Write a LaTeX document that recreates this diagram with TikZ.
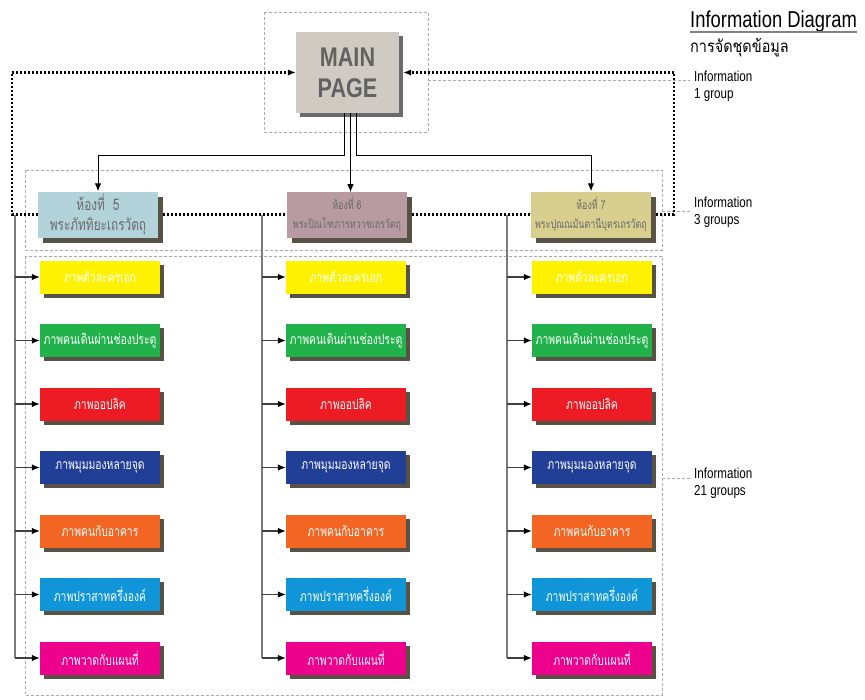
\documentclass[tikz,border=0pt]{standalone}
\usepackage{fontspec}
\setmainfont{Liberation Sans}
\newfontfamily\thaifont[Script=Thai,FakeStretch=0.85]{Loma}
\newfontfamily\thainarrow[Script=Thai,FakeStretch=0.74]{Loma}
\newfontfamily\narrowfont[FakeStretch=0.8]{Liberation Sans}
\usetikzlibrary{positioning,arrows.meta,shadows}

\definecolor{mainfill}{HTML}{CFCBC3}
\definecolor{mainshade}{HTML}{6B6B6B}
\definecolor{maintext}{HTML}{626262}
\definecolor{roomshade}{HTML}{575244}
\definecolor{roomtext}{HTML}{6A6A6A}
\definecolor{roomblue}{HTML}{B3D3DB}
\definecolor{roommauve}{HTML}{B79AA2}
\definecolor{roomkhaki}{HTML}{D8CF8E}
\definecolor{picyellow}{HTML}{FFF200}
\definecolor{picgreen}{HTML}{22B24C}
\definecolor{picred}{HTML}{ED1C24}
\definecolor{picblue}{HTML}{223F98}
\definecolor{picorange}{HTML}{F26522}
\definecolor{piccyan}{HTML}{0F95D8}
\definecolor{picpink}{HTML}{EC008C}
\definecolor{framegray}{HTML}{ABABAB}
\definecolor{trunkgray}{HTML}{7A7A7A}

\tikzset{
    mainbox/.style={fill=mainfill, minimum width=103pt, minimum height=81pt, align=center,
        text=maintext, font=\narrowfont\bfseries\fontsize{27}{31}\selectfont,
        drop shadow={shadow xshift=4pt, shadow yshift=-4pt, fill=mainshade, opacity=1}},
    roombox/.style={minimum width=120pt, minimum height=46pt, inner sep=1pt, align=center,
        text=roomtext, font=\thainarrow\fontsize{12}{19}\selectfont,
        drop shadow={shadow xshift=5pt, shadow yshift=-5pt, fill=roomshade, opacity=1}},
    picbox/.style={minimum width=120pt, minimum height=33pt, inner xsep=1pt, text=white,
        font=\thainarrow\fontsize{14}{16}\selectfont,
        drop shadow={shadow xshift=4pt, shadow yshift=-4pt, fill=roomshade, opacity=1}},
    infolabel/.style={anchor=north west, align=left, inner xsep=4pt, inner ysep=0pt,
        font=\narrowfont\fontsize{14.5}{17}\selectfont},
    frame/.style={framegray, line width=0.6pt, dash pattern=on 3pt off 2pt},
    loopline/.style={black, line width=2.2pt, dash pattern=on 2.2pt off 1.8pt},
    feed/.style={black, line width=1pt, ->},
    trunk/.style={trunkgray, line width=1.3pt},
    branch/.style={black!75, line width=1.1pt, -{Latex[length=8pt,width=6.5pt,black]}}
}

\begin{document}
\begin{tikzpicture}[x=1pt,y=-1pt,node distance=63.5pt,>={Latex[length=8pt,width=6.5pt]}]
    \useasboundingbox (0,0) rectangle (865,699);

    \draw[frame] (264,12) rectangle (428,132);
    \draw[frame] (25,170) rectangle (662,250);
    \draw[frame] (25,256) rectangle (662,695);

    \node (main) [mainbox] at (347.5,72.5) {MAIN\\PAGE};

    \node (room5) [roombox, fill=roomblue, font=\thainarrow\fontsize{16}{20}\selectfont] at (98,214.5) {ห้องที่~~5\\พระภัททิยะเถรวัตถุ};
    \node (room6) [roombox, fill=roommauve] at (347,214.5) {ห้องที่ 6\\พระปิณโฑภารทวาชเถรวัตถุ};
    \node (room7) [roombox, fill=roomkhaki] at (591,214.5) {ห้องที่ 7\\พระปุณณมันตานีบุตรเถรวัตถุ};

    \node (a1) [picbox, fill=picyellow] at (100,277) {ภาพตัวละครเอก};
    \node (a2) [picbox, fill=picgreen, below of=a1] {ภาพคนเดินผ่านช่องประตู};
    \node (a3) [picbox, fill=picred, below of=a2] {ภาพออปลิค};
    \node (a4) [picbox, fill=picblue, below of=a3] {ภาพมุมมองหลายจุด};
    \node (a5) [picbox, fill=picorange, below of=a4] {ภาพคนกับอาคาร};
    \node (a6) [picbox, fill=piccyan, below of=a5] {ภาพปราสาทครึ่งองค์};
    \node (a7) [picbox, fill=picpink, below of=a6] {ภาพวาดกับแผนที่};

    \node (b1) [picbox, fill=picyellow] at (346,277) {ภาพตัวละครเอก};
    \node (b2) [picbox, fill=picgreen, below of=b1] {ภาพคนเดินผ่านช่องประตู};
    \node (b3) [picbox, fill=picred, below of=b2] {ภาพออปลิค};
    \node (b4) [picbox, fill=picblue, below of=b3] {ภาพมุมมองหลายจุด};
    \node (b5) [picbox, fill=picorange, below of=b4] {ภาพคนกับอาคาร};
    \node (b6) [picbox, fill=piccyan, below of=b5] {ภาพปราสาทครึ่งองค์};
    \node (b7) [picbox, fill=picpink, below of=b6] {ภาพวาดกับแผนที่};

    \node (c1) [picbox, fill=picyellow] at (592,277) {ภาพตัวละครเอก};
    \node (c2) [picbox, fill=picgreen, below of=c1] {ภาพคนเดินผ่านช่องประตู};
    \node (c3) [picbox, fill=picred, below of=c2] {ภาพออปลิค};
    \node (c4) [picbox, fill=picblue, below of=c3] {ภาพมุมมองหลายจุด};
    \node (c5) [picbox, fill=picorange, below of=c4] {ภาพคนกับอาคาร};
    \node (c6) [picbox, fill=piccyan, below of=c5] {ภาพปราสาทครึ่งองค์};
    \node (c7) [picbox, fill=picpink, below of=c6] {ภาพวาดกับแผนที่};

    \node (title) [anchor=base west, inner sep=0pt, font=\narrowfont\fontsize{23}{26}\selectfont] at (690,27) {Information Diagram};
    \node (subtitle) [anchor=base west, inner sep=0pt, font=\thaifont\fontsize{17}{20}\selectfont] at (690,52) {การจัดชุดข้อมูล};
    \draw[gray, line width=1.2pt] ([yshift=-5pt]title.base west) -- ([yshift=-5pt]title.base east);

    \node (info1) [infolabel] at (690,71) {Information\\1 group};
    \node (info3) [infolabel] at (690,197) {Information\\3 groups};
    \node (info21) [infolabel] at (690,468) {Information\\21 groups};

    \coordinate (lead1) at (428,80);
    \coordinate (lead3) at (662,211);
    \coordinate (lead21) at (662,478);
    \draw[frame] (lead1) -- (lead1 -| info1.west);
    \draw[frame] (lead3) -- (lead3 -| info3.west);
    \draw[frame] (lead21) -- (lead21 -| info21.west);

    \coordinate (loopL) at (12,72.5);
    \coordinate (loopR) at (674,72.5);
    \draw[loopline, ->] (room5.west) -| (loopL) -- (main.west);
    \draw[loopline, shorten <=5pt] (room5.east) -- (room6.west);
    \draw[loopline, shorten <=5pt] (room6.east) -- (room7.west);
    \draw[loopline, ->, shorten <=5pt, shorten >=4pt] (room7.east) -| (loopR) -- (main.east);

    \draw[feed] ([xshift=-3pt]main.south) -- ++(0,42) -| (room5.north);
    \draw[feed] ([xshift=3pt]main.south) -- ++(0,79);
    \draw[feed] ([xshift=9pt]main.south) -- ++(0,42) -| (room7.north);

    \coordinate (trunkA) at (15,214.5);
    \coordinate (trunkB) at (262,214.5);
    \coordinate (trunkC) at (507,214.5);
    \draw[trunk] (trunkA) -- (trunkA |- a7.west);
    \draw[trunk] (trunkB) -- (trunkB |- b7.west);
    \draw[trunk] (trunkC) -- (trunkC |- c7.west);

    \draw[branch] (trunkA |- a1.west) -- (a1.west);
    \draw[branch] (trunkA |- a2.west) -- (a2.west);
    \draw[branch] (trunkA |- a3.west) -- (a3.west);
    \draw[branch] (trunkA |- a4.west) -- (a4.west);
    \draw[branch] (trunkA |- a5.west) -- (a5.west);
    \draw[branch] (trunkA |- a6.west) -- (a6.west);
    \draw[branch] (trunkA |- a7.west) -- (a7.west);

    \draw[branch] (trunkB |- b1.west) -- (b1.west);
    \draw[branch] (trunkB |- b2.west) -- (b2.west);
    \draw[branch] (trunkB |- b3.west) -- (b3.west);
    \draw[branch] (trunkB |- b4.west) -- (b4.west);
    \draw[branch] (trunkB |- b5.west) -- (b5.west);
    \draw[branch] (trunkB |- b6.west) -- (b6.west);
    \draw[branch] (trunkB |- b7.west) -- (b7.west);

    \draw[branch] (trunkC |- c1.west) -- (c1.west);
    \draw[branch] (trunkC |- c2.west) -- (c2.west);
    \draw[branch] (trunkC |- c3.west) -- (c3.west);
    \draw[branch] (trunkC |- c4.west) -- (c4.west);
    \draw[branch] (trunkC |- c5.west) -- (c5.west);
    \draw[branch] (trunkC |- c6.west) -- (c6.west);
    \draw[branch] (trunkC |- c7.west) -- (c7.west);
\end{tikzpicture}
\end{document}
